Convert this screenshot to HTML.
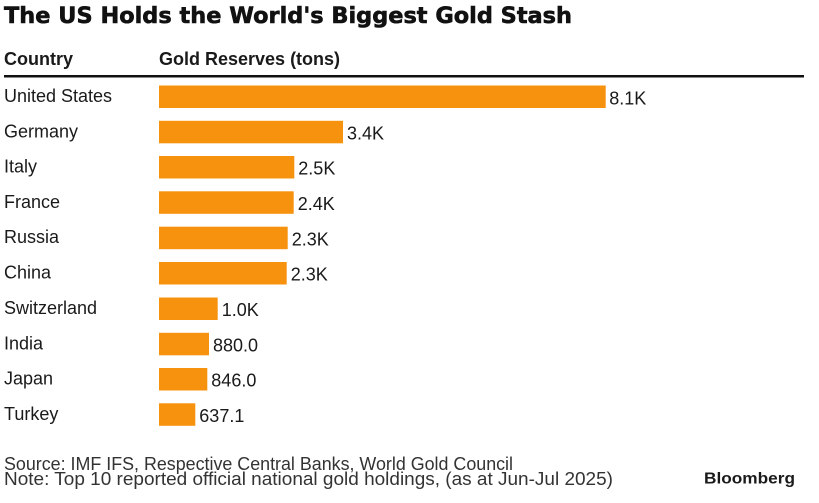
<!DOCTYPE html>
<html><head><meta charset="utf-8"><style>
html,body{margin:0;padding:0;background:#fff;}
svg{display:block;}
</style></head><body>
<svg width="819" height="503" viewBox="0 0 819 503" xmlns="http://www.w3.org/2000/svg">
<rect width="819" height="503" fill="#fff"/>
<text x="4" y="23" font-family="DejaVu Sans" font-weight="bold" font-size="22.4" fill="#111" stroke="#111" stroke-width="0.6" textLength="568" lengthAdjust="spacingAndGlyphs">The US Holds the World's Biggest Gold Stash</text>
<text x="4" y="65" font-family="Liberation Sans" font-weight="bold" font-size="18" fill="#1a1a1a">Country</text>
<text x="159" y="65" font-family="Liberation Sans" font-weight="bold" font-size="18" fill="#1a1a1a">Gold Reserves (tons)</text>
<rect x="4" y="75" width="800" height="2.5" fill="#111"/>
<g fill="#f7920e">
<rect x="159" y="85.5" width="446.7" height="22.5"/>
<rect x="159" y="120.8" width="184" height="22.5"/>
<rect x="159" y="156" width="135.3" height="22.5"/>
<rect x="159" y="191.3" width="134.7" height="22.5"/>
<rect x="159" y="226.7" width="128.7" height="22.5"/>
<rect x="159" y="262" width="127.7" height="22.5"/>
<rect x="159" y="297.5" width="58.7" height="22.5"/>
<rect x="159" y="332.8" width="50" height="22.5"/>
<rect x="159" y="368" width="48.3" height="22.5"/>
<rect x="159" y="403.3" width="36.3" height="22.5"/>
</g>
<g font-family="Liberation Sans" font-size="18" fill="#1a1a1a">
<text x="4" y="102">United States</text>
<text x="4" y="137.3">Germany</text>
<text x="4" y="172.5">Italy</text>
<text x="4" y="207.8">France</text>
<text x="4" y="243.2">Russia</text>
<text x="4" y="278.5">China</text>
<text x="4" y="314">Switzerland</text>
<text x="4" y="349.3">India</text>
<text x="4" y="384.5">Japan</text>
<text x="4" y="419.8">Turkey</text>
</g>
<g font-family="Liberation Sans" font-size="18" fill="#1a1a1a">
<text x="609.2" y="104.5">8.1K</text>
<text x="347" y="139.5">3.4K</text>
<text x="298.3" y="174.7">2.5K</text>
<text x="297.7" y="210">2.4K</text>
<text x="291.7" y="245.4">2.3K</text>
<text x="290.7" y="280.7">2.3K</text>
<text x="221.7" y="316.2">1.0K</text>
<text x="213" y="351.5">880.0</text>
<text x="211.3" y="386.7">846.0</text>
<text x="199.3" y="422">637.1</text>
</g>
<g font-family="Liberation Sans" font-size="18" fill="#333">
<text x="4" y="470" textLength="509" lengthAdjust="spacingAndGlyphs">Source: IMF IFS, Respective Central Banks, World Gold Council</text>
<text x="4" y="485" textLength="609" lengthAdjust="spacingAndGlyphs">Note: Top 10 reported official national gold holdings, (as at Jun-Jul 2025)</text>
</g>
<text x="704" y="483.5" font-family="Liberation Sans" font-weight="bold" font-size="16" fill="#1a1a1a" textLength="91" lengthAdjust="spacingAndGlyphs">Bloomberg</text>
</svg>
</body></html>
